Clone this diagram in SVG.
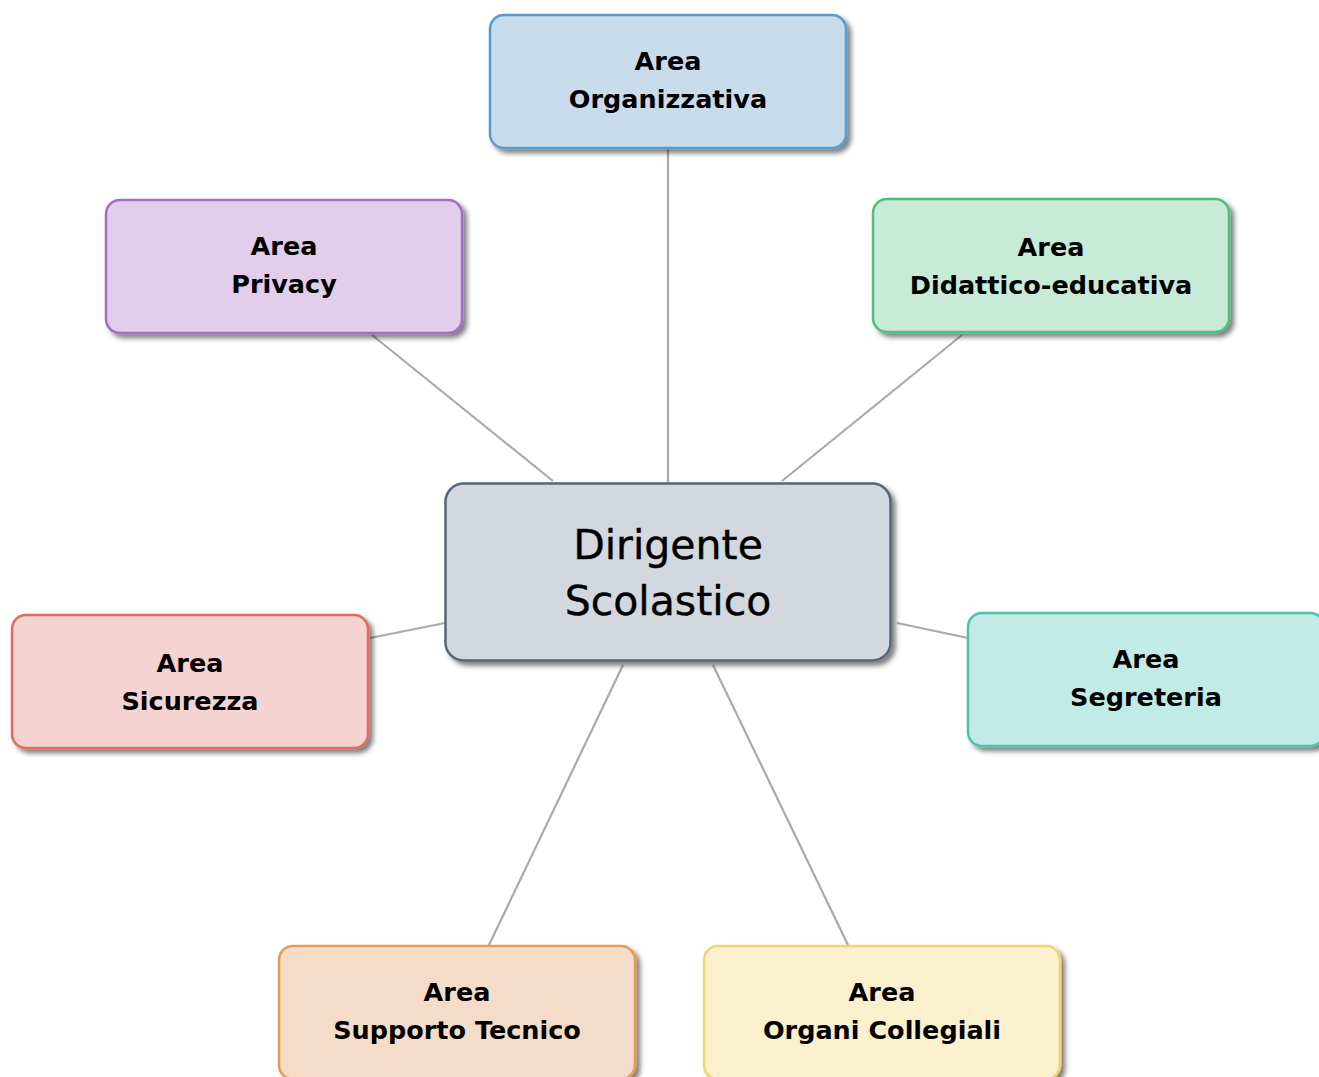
<svg xmlns="http://www.w3.org/2000/svg" width="1319" height="1077" viewBox="0 0 1319 1077">
<defs>
<filter id="sh" x="-10%" y="-10%" width="130%" height="140%">
<feDropShadow dx="4" dy="4" stdDeviation="2.5" flood-color="#000" flood-opacity="0.5"/>
</filter>
<style>
.conn line{stroke:#aaaaaa;stroke-width:2.2;fill:none}
.box{stroke-width:2.5;filter:url(#sh)}
.lbl{font-family:"DejaVu Sans",sans-serif;font-weight:bold;font-size:25.5px;fill:#000;text-anchor:middle}
.main{font-family:"DejaVu Sans",sans-serif;font-size:41px;fill:#000;text-anchor:middle;stroke:#000;stroke-width:0.4}
</style>
</defs>
<rect width="1319" height="1077" fill="#ffffff"/>
<g id="connectors" class="conn">
<line x1="668" y1="148" x2="668" y2="483"/>
<line x1="372" y1="335" x2="553" y2="481"/>
<line x1="962" y1="335" x2="782" y2="481"/>
<line x1="370" y1="638" x2="445" y2="623"/>
<line x1="897" y1="623" x2="968" y2="638"/>
<line x1="623" y1="665" x2="489" y2="945"/>
<line x1="713" y1="665" x2="848" y2="945"/>
</g>
<g id="center">
<rect class="box" x="445.5" y="483.5" width="445" height="177" rx="18" fill="#d2d8dd" stroke="#566678" stroke-width="3.5"/>
<text class="main" x="668" y="559">Dirigente</text>
<text class="main" x="668" y="615">Scolastico</text>
</g>
<g id="organizzativa">
<rect class="box" x="490" y="15" width="356" height="133" rx="14" fill="#c9dcec" stroke="#5a9bcf"/>
<text class="lbl" x="668" y="70">Area</text>
<text class="lbl" x="668" y="108">Organizzativa</text>
</g>
<g id="privacy">
<rect class="box" x="106" y="200" width="356" height="133" rx="14" fill="#e2cdeb" stroke="#a56cc1"/>
<text class="lbl" x="284" y="255">Area</text>
<text class="lbl" x="284" y="293">Privacy</text>
</g>
<g id="didattico">
<rect class="box" x="873" y="199" width="356" height="133" rx="14" fill="#c8ebd7" stroke="#4fbf7f"/>
<text class="lbl" x="1051" y="256">Area</text>
<text class="lbl" x="1051" y="294">Didattico-educativa</text>
</g>
<g id="sicurezza">
<rect class="box" x="12" y="615" width="356" height="133" rx="14" fill="#f5d3d0" stroke="#e46b61"/>
<text class="lbl" x="190" y="672">Area</text>
<text class="lbl" x="190" y="710">Sicurezza</text>
</g>
<g id="segreteria">
<rect class="box" x="968" y="613" width="356" height="133" rx="14" fill="#c1ebe4" stroke="#4cc5aa"/>
<text class="lbl" x="1146" y="668">Area</text>
<text class="lbl" x="1146" y="706">Segreteria</text>
</g>
<g id="supporto">
<rect class="box" x="279" y="946" width="356" height="133" rx="14" fill="#f5dcc8" stroke="#e89b55"/>
<text class="lbl" x="457" y="1001">Area</text>
<text class="lbl" x="457" y="1039">Supporto Tecnico</text>
</g>
<g id="organi">
<rect class="box" x="704" y="946" width="356" height="133" rx="14" fill="#faf0cd" stroke="#f0d56d"/>
<text class="lbl" x="882" y="1001">Area</text>
<text class="lbl" x="882" y="1039">Organi Collegiali</text>
</g>
</svg>
